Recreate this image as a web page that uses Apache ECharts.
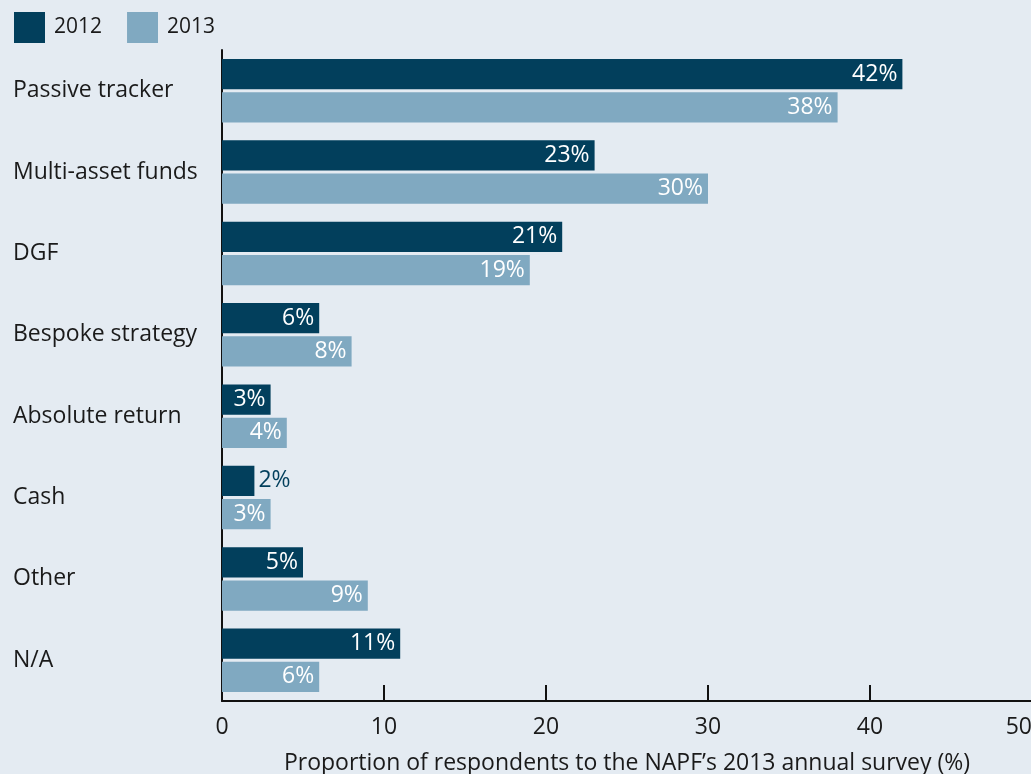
<!DOCTYPE html>
<html>
<head>
<meta charset="utf-8">
<style>
  html, body { margin: 0; padding: 0; background: #e4ebf2; }
  #main { width: 1031px; height: 774px; }
</style>
<script src="https://cdn.jsdelivr.net/npm/echarts@6/dist/echarts.min.js"></script>
</head>
<body>
<div id="main"></div>
<script>
var categories = ['Passive tracker', 'Multi-asset funds', 'DGF', 'Bespoke strategy', 'Absolute return', 'Cash', 'Other', 'N/A'];
var values2012 = [42, 23, 21, 6, 3, 2, 5, 11];
var values2013 = [38, 30, 19, 8, 4, 3, 9, 6];
var xTicks = [0, 10, 20, 30, 40, 50];

var dark = '#023f5c';
var light = '#80a9c1';
var font = 'Open Sans';

// bars too short for an inside label get it outside
function withLabels(values) {
  return values.map(function (v) {
    if (v < 3) {
      return { value: v, label: { position: 'right', color: dark, distance: 4 } };
    }
    return v;
  });
}

var chartDom = document.getElementById('main');
var myChart = echarts.init(chartDom);
var option;

option = {
  backgroundColor: '#e4ebf2',
  textStyle: { fontFamily: font },
  legend: {
    left: 14,
    top: 12,
    padding: 0,
    itemWidth: 31,
    itemHeight: 31,
    itemGap: 25,
    icon: 'rect',
    textStyle: { fontSize: 21, color: '#1a1a1a', fontFamily: font, padding: [0, 0, 0, 4] },
    data: ['2012', '2013']
  },
  grid: { left: 222, right: -1, top: 50, bottom: 73, outerBoundsMode: 'none' },
  xAxis: {
    type: 'value',
    min: 0,
    max: 50,
    interval: 10,
    name: 'Proportion of respondents to the NAPF\u2019s 2013 annual survey (%)',
    nameLocation: 'middle',
    nameGap: 51,
    nameTextStyle: { fontSize: 23, color: '#1a1a1a', fontFamily: font },
    axisLine: { show: true, lineStyle: { color: '#111', width: 2 } },
    axisTick: { show: true, inside: true, length: 16, lineStyle: { color: '#111', width: 2 } },
    axisLabel: {
      fontSize: 23, color: '#1a1a1a', margin: 15, fontFamily: font,
      alignMaxLabel: 'right',
      formatter: function (v) { return xTicks.indexOf(v) >= 0 ? String(v) : ''; }
    },
    splitLine: { show: false }
  },
  yAxis: {
    type: 'category',
    inverse: true,
    data: categories,
    axisLine: { show: true, lineStyle: { color: '#111', width: 2 } },
    axisTick: { show: false },
    axisLabel: { align: 'left', margin: 209, fontSize: 23, color: '#1a1a1a', fontFamily: font }
  },
  series: [
    {
      name: '2012',
      type: 'bar',
      data: withLabels(values2012),
      itemStyle: { color: dark },
      barGap: '10%',
      barCategoryGap: '22%',
      label: {
        show: true, position: 'insideRight', distance: 5,
        color: '#fff', fontSize: 23, fontFamily: font, formatter: '{c}%'
      }
    },
    {
      name: '2013',
      type: 'bar',
      data: withLabels(values2013),
      itemStyle: { color: light },
      barGap: '10%',
      barCategoryGap: '22%',
      label: {
        show: true, position: 'insideRight', distance: 5,
        color: '#fff', fontSize: 23, fontFamily: font, formatter: '{c}%'
      }
    }
  ]
};

option && myChart.setOption(option);
</script>
</body>
</html>
